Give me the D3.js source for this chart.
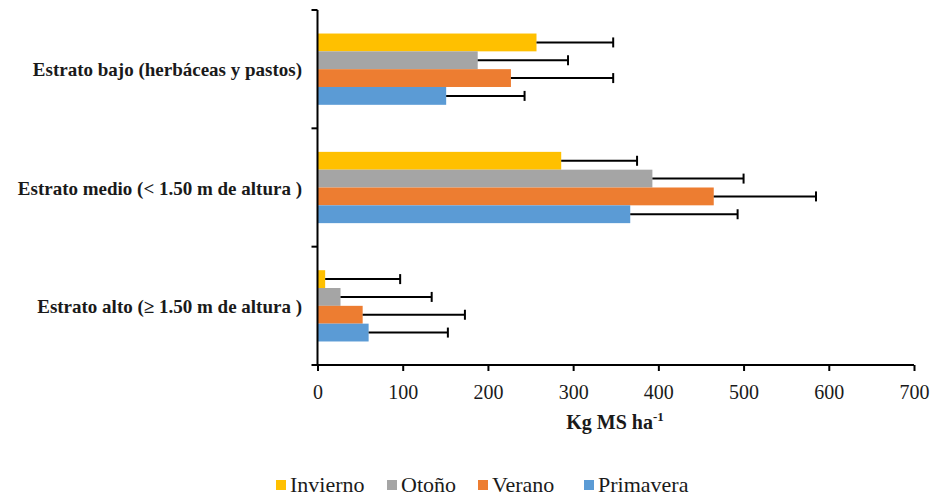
<!DOCTYPE html>
<html>
<head>
<meta charset="utf-8">
<script src="https://cdn.jsdelivr.net/npm/d3@7"></script>
<style>
  html, body { margin: 0; padding: 0; background: #fff; }
  svg { display: block; }
  svg text { font-family: "Liberation Serif", "Times New Roman", "DejaVu Serif", serif; fill: #1a1a1a; }
</style>
</head>
<body>
<svg id="chart" width="932" height="498"></svg>
<script>
// Strata (top to bottom) and seasons (top to bottom inside each group)
const categories = [
  "Estrato bajo (herbáceas y pastos)",
  "Estrato medio (< 1.50 m de altura )",
  "Estrato alto (≥ 1.50 m de altura )"
];
const seasons = ["Invierno", "Otoño", "Verano", "Primavera"];
const seasonColors = ["#FFC000", "#A5A5A5", "#ED7D31", "#5B9BD5"];

// Mean values (kg MS/ha) per season, in category order
const invierno  = [257, 286, 9];
const otono     = [188, 393, 27];
const verano    = [227, 465, 53];
const primavera = [151, 367, 60];

// Upper ends of the error bars
const inviernoErr  = [347, 375, 97];
const otonoErr     = [294, 500, 134];
const veranoErr    = [347, 585, 173];
const primaveraErr = [243, 493, 153];

const xTicks = [0, 100, 200, 300, 400, 500, 600, 700];

const seriesValues = [invierno, otono, verano, primavera];
const seriesErrors = [inviernoErr, otonoErr, veranoErr, primaveraErr];

const svg = d3.select("#chart");
const plotLeft = 317.5, plotRight = 914, plotTop = 10, plotBottom = 365;

const x = d3.scaleLinear().domain([0, 700]).range([plotLeft, plotRight]);
const y = d3.scaleBand().domain(categories).range([plotTop, plotBottom]).paddingInner(0).paddingOuter(0);
const ySub = d3.scaleBand().domain(seasons).range([0, y.bandwidth()]).paddingOuter(1.32).paddingInner(0);

const rows = [];
categories.forEach((c, ci) => {
  seasons.forEach((s, si) => {
    rows.push({ cat: c, season: s, color: seasonColors[si],
                value: seriesValues[si][ci], err: seriesErrors[si][ci] });
  });
});

// Bars
svg.append("g").selectAll("rect").data(rows).join("rect")
  .attr("x", x(0))
  .attr("y", d => y(d.cat) + ySub(d.season))
  .attr("width", d => x(d.value) - x(0))
  .attr("height", ySub.bandwidth())
  .attr("fill", d => d.color);

// Error bars
const eb = svg.append("g").attr("stroke", "#000").attr("stroke-width", 2);
rows.forEach(d => {
  const cy = y(d.cat) + ySub(d.season) + ySub.bandwidth() / 2;
  eb.append("line").attr("x1", x(d.value)).attr("x2", x(d.err)).attr("y1", cy).attr("y2", cy);
  eb.append("line").attr("x1", x(d.err)).attr("x2", x(d.err)).attr("y1", cy - 5).attr("y2", cy + 5);
});

// X axis
const xAxis = svg.append("g")
  .attr("transform", `translate(0,${plotBottom})`)
  .call(d3.axisBottom(x).tickValues(xTicks).tickSize(6).tickPadding(14).tickFormat(d3.format("d")));
xAxis.attr("font-family", null).attr("font-size", null);
xAxis.select(".domain").attr("stroke", "#000").attr("stroke-width", 2).attr("d", `M${plotLeft - 6},0H${plotRight}`);
xAxis.selectAll(".tick line").attr("stroke", "#000").attr("stroke-width", 2);
xAxis.selectAll(".tick text").style("font-size", "20px").attr("fill", "#1a1a1a");

// Y axis: line with ticks at category boundaries
const yg = svg.append("g").attr("stroke", "#000").attr("stroke-width", 2);
yg.append("line").attr("x1", plotLeft).attr("x2", plotLeft).attr("y1", plotTop).attr("y2", plotBottom);
const boundaries = categories.map(c => y(c));
boundaries.forEach(b => {
  yg.append("line").attr("x1", plotLeft - 6).attr("x2", plotLeft).attr("y1", b).attr("y2", b);
});

// Category labels
svg.append("g").selectAll("text").data(categories).join("text")
  .attr("x", 302)
  .attr("y", d => y(d) + y.bandwidth() / 2 + 7)
  .attr("text-anchor", "end")
  .style("font-weight", "bold")
  .style("font-size", "19px")
  .text(d => d);

// X axis title
const title = svg.append("text")
  .attr("x", 615).attr("y", 429)
  .attr("text-anchor", "middle")
  .style("font-weight", "bold").style("font-size", "20px");
title.append("tspan").text("Kg MS ha");
title.append("tspan").attr("dy", -8).style("font-size", "13px").text("-1");

// Legend
const legendX = [276, 387, 478, 584];
const lg = svg.append("g");
seasons.forEach((s, i) => {
  lg.append("rect").attr("x", legendX[i]).attr("y", 480).attr("width", 10).attr("height", 10)
    .attr("fill", seasonColors[i]);
  lg.append("text").attr("x", legendX[i] + 14).attr("y", 491.5)
    .style("font-size", "22px").text(s);
});
</script>
</body>
</html>
